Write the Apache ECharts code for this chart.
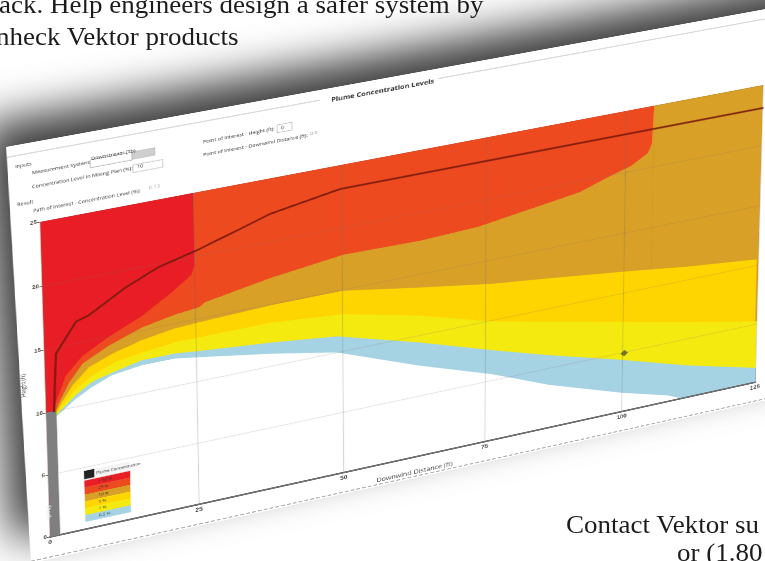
<!DOCTYPE html><html><head><meta charset="utf-8"><style>
html,body{margin:0;padding:0;width:765px;height:561px;overflow:hidden;background:#fff}
#shadow{position:absolute;left:-100px;top:-100px;width:965px;height:761px;filter:blur(22px)}
#shadow i{display:block;width:100%;height:100%;background:#3a3a3a;clip-path:polygon(82px 225px,920px 75px,920px 461px,110px 641px)}
#chart{position:absolute;left:0;top:0;width:1056px;height:660px;transform-origin:0 0;background:#fff;filter:blur(.55px);clip-path:polygon(0 0,100% 0,100% 100%,14px 100%)}
.t{position:absolute;font:25px/26px "Liberation Serif",serif;color:#1d1b1b;white-space:nowrap;transform:scaleX(1.08);transform-origin:0 0}
</style></head><body>
<div id="shadow"><i></i></div>
<div id="chart"></div>
<div class="t" style="right:282px;top:-8px;transform-origin:100% 0">ack. Help engineers design a safer system by</div>
<div class="t" style="left:-4px;top:24px">nheck Vektor products</div>
<div class="t" style="left:566px;top:512px">Contact Vektor su</div>
<div class="t" style="left:677px;top:540px">or (1.80</div>
<script src="https://cdn.jsdelivr.net/npm/echarts@6/dist/echarts.min.js"></script>
<script>
// ---- values (x: downwind distance ft, y: height ft)
const xTicks=[0,25,50,75,100,125];
const yTicks=[0,5,10,15,20,25];
const redLower=[[1.3,9.8],[1.7,10.7],[3.4,12.6],[6.2,13.9],[10.6,15.0],[16.1,16.1],[21.1,17.5],[24.5,18.6],[25,19.4]];
const orangeLower=[[1.3,9.7],[2.2,10.6],[3.9,12.0],[6.2,13.3],[10.6,14.3],[16.1,15.2],[21.6,15.7],[25.7,15.9],[26.6,16.2],[37.8,17.1],[50.2,17.8],[63.4,17.7],[73.7,17.9],[79.7,18.3],[85.9,18.7],[91.8,19.1],[97.8,20.0],[100.9,20.4],[104,21.2],[104.7,21.9],[105,25]];
const goldLower=[[1.3,9.6],[2.5,10.5],[4.4,11.7],[7.2,12.9],[11.1,13.6],[16.0,14.2],[21.5,14.6],[25.7,14.7],[37.7,14.9],[50.1,14.9],[63.4,13.9],[76.2,13.0],[86.3,12.5],[99.5,11.8],[111.7,11.1],[124.7,10.5]];
const dkYellowLower=[[1.3,9.6],[2.4,10.2],[4.7,11.3],[7.7,12.2],[11.6,12.9],[16.0,13.2],[21.5,13.5],[25.6,13.5],[37.7,13.5],[50.1,13.0],[63.4,11.6],[76.2,9.9],[86.3,8.9],[99.6,7.6],[111.9,6.4],[125,5.2]];
const yellowLower=[[1.3,9.5],[2.1,9.8],[4.9,10.9],[7.7,11.7],[11.0,12.1],[15.9,12.6],[21.5,12.6],[25.6,12.4],[37.6,11.9],[49.0,11.3],[63.4,9.4],[76.3,7.5],[86.4,6.1],[99.7,4.4],[112.1,2.7],[125.2,1.2]];
const blueLower=[[0,9.5],[1.3,9.5],[1.9,9.6],[4.9,10.6],[7.7,11.3],[11.0,11.9],[15.9,12.2],[21.4,12.2],[25.6,11.9],[37.6,11.0],[48.9,10.0],[63.3,7.5],[76.3,5.5],[86.5,3.6],[99.8,1.6],[108.5,0.5],[111,0]];
const centerLine=[[1.3,9.9],[1.7,13.1],[1.9,14.5],[5.3,16.7],[7.4,17.0],[13.5,18.6],[19.0,19.7],[25.9,20.5],[37.9,22.2],[49.7,23.1],[76.1,23.1],[103.9,23.1],[125.2,23.1]];
const fullGold=[[0,25],[125,25]];
const fullOrange=[[0,25],[105,25]];
const fullRed=[[0,25],[25,25]];
const stackBar=[[0,10],[1.7,10]];
const pointOfInterest=[[100.3,4.9]];
const legendLabels=['> 50 %','25 %','10 %','5 %','1 %','0.5 %'];
const legendColors=['#E81D25','#EE4A1F','#D8A026','#FFD500','#F4EA10','#A5D3E4'];

// ---- perspective placement of the window
const Q=[[34,223],[763,85],[755,382],[44,538]];
const PL=32,PT=124,PW=1000,PH=500;
function sq2q(q){const [x0,y0]=q[0],[x1,y1]=q[1],[x2,y2]=q[2],[x3,y3]=q[3];
const dx1=x1-x2,dx2=x3-x2,sx=x0-x1+x2-x3,dy1=y1-y2,dy2=y3-y2,sy=y0-y1+y2-y3;
const d=dx1*dy2-dx2*dy1;const g=(sx*dy2-dx2*sy)/d,h=(dx1*sy-sx*dy1)/d;
return [x1-x0+g*x1,x3-x0+h*x3,x0,y1-y0+g*y1,y3-y0+h*y3,y0,g,h,1];}
function mul(A,B){const R=[];for(let r=0;r<3;r++)for(let c=0;c<3;c++){R.push(A[r*3]*B[c]+A[r*3+1]*B[3+c]+A[r*3+2]*B[6+c]);}return R;}
function inv(m){const [a,b,c,d,e,f,g,h,i]=m;return [e*i-f*h,c*h-b*i,b*f-c*e,f*g-d*i,a*i-c*g,c*d-a*f,d*h-e*g,b*g-a*h,a*e-b*d];}
const M=mul(sq2q(Q),[1/PW,0,-PL/PW,0,1/PH,-PT/PH,0,0,1]);
const IM=inv(M);
function at(x,y){const w=IM[6]*x+IM[7]*y+IM[8];return [(IM[0]*x+IM[1]*y+IM[2])/w,(IM[3]*x+IM[4]*y+IM[5])/w];}
const el=document.getElementById('chart');
el.style.transform='matrix3d('+[M[0],M[3],0,M[6],M[1],M[4],0,M[7],0,0,1,0,M[2],M[5],0,M[8]].join(',')+')';
const chart=echarts.init(el,null,{devicePixelRatio:2});

function area(name,data,color){return {name,type:'line',data,symbol:'none',silent:true,lineStyle:{width:0},areaStyle:{color,opacity:1},itemStyle:{color}};}
const series=[
 area('Gold base',fullGold,legendColors[2]),
 area('Orange base',fullOrange,legendColors[1]),
 area('Red',fullRed,legendColors[0]),
 area('Orange',redLower,legendColors[1]),
 area('Gold',orangeLower,legendColors[2]),
 area('Dark yellow',goldLower,legendColors[3]),
 area('Yellow',dkYellowLower,legendColors[4]),
 area('Blue',yellowLower,legendColors[5]),
 area('Clear',blueLower,'#ffffff'),
 {name:'Centerline',type:'line',z:8,data:centerLine,symbol:'none',lineStyle:{color:'#7a1b0e',width:3,opacity:.9}},
 Object.assign(area('Stack',stackBar,'#7f7f7f'),{z:8}),
 {name:'Point of interest',type:'scatter',z:9,data:pointOfInterest,symbol:'diamond',symbolSize:11,itemStyle:{color:'#5a5a1e'}}
];
const F=7.2;
const txt=(s,p,size,fill)=>({type:'text',x:p[0],y:p[1],z:100,style:{text:s,fill:fill||'#333',font:size+'px "Open Sans",sans-serif',textVerticalAlign:'middle'}});
const box=(a,b,fill,stroke)=>({type:'rect',z:99,shape:{x:a[0],y:a[1],width:b[0]-a[0],height:b[1]-a[1]},style:{fill,stroke:stroke||null,lineWidth:1}});
const g=[];
// window furniture
g.push({type:'line',z:50,shape:{x1:0,y1:16,x2:408,y2:16},style:{stroke:'#cfcfcf',lineWidth:1.5}});
g.push({type:'line',z:50,shape:{x1:568,y1:16,x2:1056,y2:16},style:{stroke:'#cfcfcf',lineWidth:1.5}});
g.push({type:'line',z:50,shape:{x1:14,y1:657,x2:1056,y2:657},style:{stroke:'#999',lineWidth:1.5,lineDash:[5,3]}});
// form
g.push(txt('Inputs',at(15,167),F));
g.push(txt('Measurement System:',at(32,173),F));
g.push(box(at(90,160),at(132,160),'#fff','#aaa'));
g.push(txt('Downstream (Tb)',at(91,159),F));
g.push(box(at(132,152),at(155,155),'#cfcfcf','#bbb'));
g.push(txt('Concentration Level in Mixing Plan (%):',at(32,187),F));
g.push(box(at(133,165),at(163,167),'#fff','#bbb'));
g.push(txt('10',at(137,167),F));
g.push(txt('Result',at(17,205),F));
g.push(txt('Path of Interest - Concentration Level (%):',at(33,211),F));
g.push(txt('0.13',at(149,188),F,'#aaa'));
g.push(txt('Point of Interest - Height (ft):',at(203,142),F));
g.push(box(at(277,125),at(292,130),'#fff','#bbb'));
g.push(txt('0',at(281,128),F));
g.push(txt('Point of Interest - Downwind Distance (ft):',at(203,155),F));
g.push(txt('0.0',at(310,134),F,'#999'));
// legend box
const lt=at(84,471),lb=at(131,512),rowH=(lb[1]-lt[1])/7.4,lw=lb[0]-lt[0];
g.push({type:'rect',z:99,shape:{x:lt[0],y:lt[1],width:lw,height:rowH*1.4},style:{fill:'#f4f4f4'}});
g.push({type:'rect',z:100,shape:{x:lt[0],y:lt[1],width:rowH*1.2,height:rowH*1.2},style:{fill:'#222'}});
g.push({type:'text',z:100,x:lt[0]+rowH*1.4,y:lt[1]+rowH*.7,style:{text:'Plume Concentration',fill:'#333',font:'6px "Open Sans",sans-serif',textVerticalAlign:'middle'}});
legendColors.forEach((c,i)=>{const y=lt[1]+rowH*(1.4+i);
 g.push({type:'rect',z:99,shape:{x:lt[0],y,width:lw,height:rowH},style:{fill:c}});
 g.push({type:'text',z:100,x:lt[0]+lw*.3,y:y+rowH/2,style:{text:legendLabels[i],fill:'#333',font:'6px "Open Sans",sans-serif',textVerticalAlign:'middle'}});});
// stack label
g.push({type:'text',z:100,x:PL+7,y:PT+PH-40,rotation:-Math.PI/2,style:{text:'Stack',fill:'#eee',font:'bold 8px "Open Sans",sans-serif',textAlign:'center',textVerticalAlign:'middle'}});

chart.setOption({
 animation:false,
 backgroundColor:'#fff',
 title:{text:'Plume Concentration Levels',left:PL+456,top:9,textAlign:'center',textStyle:{fontFamily:'Open Sans',fontSize:10,fontWeight:'bold',color:'#333'}},
 grid:{left:PL,top:PT,width:PW,height:PH,containLabel:false},
 xAxis:{type:'value',min:0,max:125,interval:25,z:5,name:'Downwind Distance (ft)',nameLocation:'middle',nameGap:21,
  nameTextStyle:{fontSize:10,color:'#444',fontFamily:'Open Sans'},
  axisLine:{show:true,lineStyle:{color:'#6e6e6e',width:3}},axisTick:{show:false},
  axisLabel:{fontSize:9,fontWeight:'bold',color:'#444',margin:5,formatter:v=>xTicks.includes(v)?v:''},
  splitLine:{show:true,lineStyle:{color:'rgba(110,110,110,.28)',width:1.4}}},
 yAxis:{type:'value',min:0,max:25,interval:5,z:5,name:'Height (ft)',nameLocation:'middle',nameGap:13,
  nameTextStyle:{fontSize:8,color:'#444',fontFamily:'Open Sans'},
  axisLine:{show:false},axisTick:{show:true,length:4,lineStyle:{color:'#555'}},
  axisLabel:{fontSize:8,fontWeight:'bold',color:'#4a4a3a',margin:4,formatter:v=>yTicks.includes(v)?v:''},
  splitLine:{show:true,lineStyle:{color:'rgba(140,110,110,.2)',width:1.4}}},
 series,
 graphic:g
});
</script></body></html>
